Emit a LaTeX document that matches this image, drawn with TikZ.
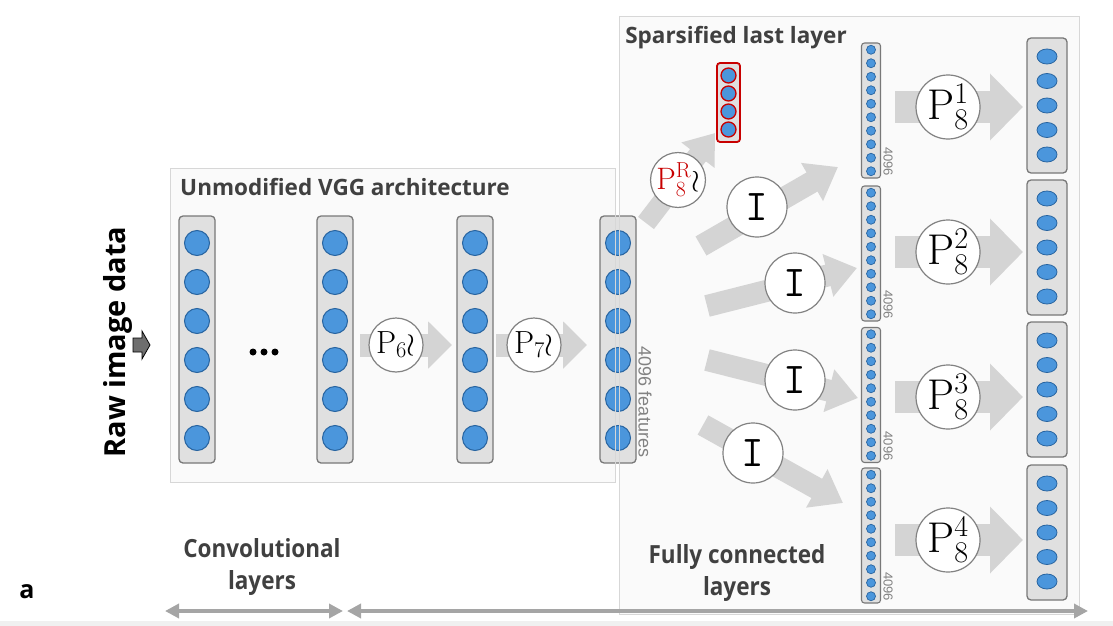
\RequirePackage{fix-cm}
\documentclass[tikz,border=0pt]{standalone}
\usepackage{fontspec}
\usetikzlibrary{arrows.meta,calc,shapes.geometric}
\newfontfamily\osb{Open Sans}
\newfontfamily\oscond{Open Sans}[FakeStretch=0.9]
\newfontfamily\libsans{Liberation Sans}
\definecolor{framefill}{RGB}{250,250,250}
\definecolor{frameline}{RGB}{215,215,215}
\definecolor{colfill}{RGB}{224,224,224}
\definecolor{colline}{RGB}{120,120,120}
\definecolor{neuronfill}{RGB}{75,150,220}
\definecolor{neuronline}{RGB}{40,100,160}
\definecolor{arrowgray}{RGB}{212,212,212}
\definecolor{circline}{RGB}{130,130,130}
\definecolor{txtgray}{RGB}{64,64,64}
\definecolor{smallgray}{RGB}{130,130,130}
\definecolor{axisgray}{RGB}{165,165,165}
\definecolor{redsparse}{RGB}{200,0,0}
\definecolor{bandgray}{RGB}{240,240,240}
\definecolor{inarrow}{RGB}{110,110,110}
\tikzset{
  frame/.style={draw=frameline, fill=framefill, line width=0.8pt},
  col/.style={draw=colline, fill=colfill, rounded corners=4pt, line width=1.3pt, inner sep=0pt},
  neuron/.style={circle, draw=neuronline, fill=neuronfill, line width=1pt, inner sep=0pt, minimum size=25pt},
  smallneuron/.style={circle, draw=neuronline, fill=neuronfill, line width=0.7pt, inner sep=0pt, minimum size=9pt},
  wideneuron/.style={ellipse, draw=neuronline, fill=neuronfill, line width=0.8pt, inner sep=0pt, minimum width=20pt, minimum height=15pt},
  opcirc/.style={circle, draw=circline, fill=white, line width=1.2pt, inner sep=0pt},
  blockarrow/.style={draw=arrowgray, line width=#1},
  heading/.style={text=txtgray, font=\osb\bfseries\fontsize{22.5}{24}\selectfont},
  axislabel/.style={text=txtgray, align=center, font=\oscond\bfseries\fontsize{25}{32}\selectfont},
  countlabel/.style={text=smallgray, font=\libsans\fontsize{13}{13}\selectfont, rotate=-90},
}
\begin{document}
\begin{tikzpicture}[x=1pt,y=-1pt]
\useasboundingbox (0,0) rectangle (1113,626);
\fill[bandgray] (0,621) rectangle (1113,626);
% frames
\draw[frame] (619,16) rectangle (1079,614);
\draw[frame] (170,168) rectangle (615,482);
% big columns
\foreach \n/\x in {c1/197,c2/335,c3/475,c4/618}{
  \node[col, minimum width=36pt, minimum height=247pt] (\n) at (\x,339.5) {};
  \foreach \y [count=\i] in {243,282,321,360,399,438}
    \node[neuron] (\n n\i) at (\x,\y) {};
}
% frame borders over column 4
\draw[frameline, line width=0.8pt] (615,168) -- (615,482);
\draw[frameline, line width=0.8pt] (619,16) -- (619,614);
% small 4096 columns
\foreach \n/\yc in {s1/110.5,s2/253.5,s3/395,s4/535.5}{
  \node[col, rounded corners=3pt, line width=1.1pt, minimum width=19pt, minimum height=135pt] (\n) at (871,\yc) {};
  \foreach \k in {0,...,9}
    \node[smallneuron] (\n d\k) at (871,\yc-60.75+13.5*\k) {};
  \node[countlabel] (\n lab) at (888,\yc+51) {4096};
}
% wide output columns
\foreach \n/\yc in {w1/105.5,w2/247.5,w3/389.5,w4/532.5}{
  \node[col, minimum width=40pt, minimum height=135pt] (\n) at (1047,\yc) {};
  \foreach \k in {0,...,4}
    \node[wideneuron] (\n e\k) at (1047,\yc-49+24.5*\k) {};
}
% red sparse column
\node[col, draw=redsparse, rounded corners=3pt, line width=1.8pt, minimum width=23pt, minimum height=79pt] (r) at (728.5,102.5) {};
\foreach \k in {0,...,3}
  \node[circle, draw=redsparse, fill=neuronfill, line width=1.3pt, inner sep=0pt, minimum size=15pt] (r\k) at (728.5,75.5+18*\k) {};
% arrow coordinates
\coordinate (p6s) at (360,345);  \coordinate (p6e) at (452,345);
\coordinate (p7s) at (496,345);  \coordinate (p7e) at (587,345);
\coordinate (rs) at (646,223);   \coordinate (re) at (715,133);
\coordinate (i1s) at (701,246);  \coordinate (i1e) at (838,167);
\coordinate (i2s) at (707,306);  \coordinate (i2e) at (857,268);
\coordinate (i3s) at (707,360);  \coordinate (i3e) at (858,398);
\coordinate (i4s) at (703,425);  \coordinate (i4e) at (843,503);
\foreach \k/\y in {1/107,2/252,3/397,4/540}{
  \coordinate (q\k s) at (895,\y); \coordinate (q\k e) at (1023,\y);
}
% block arrows
\draw[blockarrow=23pt, -{Triangle[length=24pt,width=46pt]}] (p6s) -- (p6e);
\draw[blockarrow=23pt, -{Triangle[length=24pt,width=46pt]}] (p7s) -- (p7e);
\draw[blockarrow=20pt, -{Triangle[length=28pt,width=40pt]}] (rs) -- (re);
\foreach \k in {1,...,4}
  \draw[blockarrow=22pt, -{Triangle[length=30pt,width=42pt]}] (i\k s) -- (i\k e);
\foreach \k in {1,...,4}
  \draw[blockarrow=32pt, -{Triangle[length=33pt,width=65pt]}] (q\k s) -- (q\k e);
% operator circles
\node[opcirc, minimum size=54pt] (op6) at (396,345) {\fontsize{32}{32}\selectfont$\mathrm{P}_{6}\wr$};
\node[opcirc, minimum size=54pt] (op7) at (534,345) {\fontsize{32}{32}\selectfont$\mathrm{P}_{7}\wr$};
\node[opcirc, minimum size=52pt] (opR) at (678,180) {\fontsize{31}{31}\selectfont\color{redsparse}$\mathrm{P}^{\mathrm{R}}_{8}$\color{black}$\wr$};
\node[opcirc, minimum size=60pt] (id1) at (757,207) {\fontsize{44}{44}\selectfont\ttfamily I};
\node[opcirc, minimum size=60pt] (id2) at (795,283) {\fontsize{44}{44}\selectfont\ttfamily I};
\node[opcirc, minimum size=60pt] (id3) at (795,380) {\fontsize{44}{44}\selectfont\ttfamily I};
\node[opcirc, minimum size=60pt] (id4) at (753,453) {\fontsize{44}{44}\selectfont\ttfamily I};
\foreach \k/\y in {1/107,2/252,3/397,4/540}
  \node[opcirc, minimum size=64pt] (op8\k) at (948,\y) {\fontsize{43}{43}\selectfont$\mathrm{P}^{\k}_{8}$};
% texts
\node[heading] (t1) at (736,38) {Sparsified last layer};
\node[heading] (t2) at (345,187) {Unmodified VGG architecture};
\node[text=black, font=\osb\bfseries\fontsize{29}{29}\selectfont, rotate=90] (raw) at (118,342) {Raw image data};
\node[text=smallgray, font=\libsans\fontsize{18}{18}\selectfont, rotate=-90] (feat) at (645,402) {4096 features};
% input arrow
\draw[fill=inarrow, draw=black, line width=0.8pt]
  (133,338) -- (142,338) -- (142,331) -- (150,345) -- (142,359) -- (142,352) -- (133,352) -- cycle;
% dots
\foreach \x [count=\i] in {253,264,275}
  \fill[black] (\x,352) circle (3.5) coordinate (dot\i);
% axis labels
\node[axislabel] (conv) at (262,567) {Convolutional\\layers};
\node[axislabel] (fc) at (737,573) {Fully connected\\layers};
\node[font=\osb\bfseries\fontsize{25}{25}\selectfont] (lbl) at (27,592) {a};
% axis arrows
\coordinate (a1) at (165,611); \coordinate (a2) at (343,611);
\coordinate (a3) at (347,611); \coordinate (a4) at (1088,611);
\draw[axisgray, line width=4pt, {Triangle[length=14pt,width=14pt]}-{Triangle[length=14pt,width=14pt]}] (a1) -- (a2);
\draw[axisgray, line width=4pt, {Triangle[length=14pt,width=14pt]}-{Triangle[length=14pt,width=14pt]}] (a3) -- (a4);
\end{tikzpicture}
\end{document}
